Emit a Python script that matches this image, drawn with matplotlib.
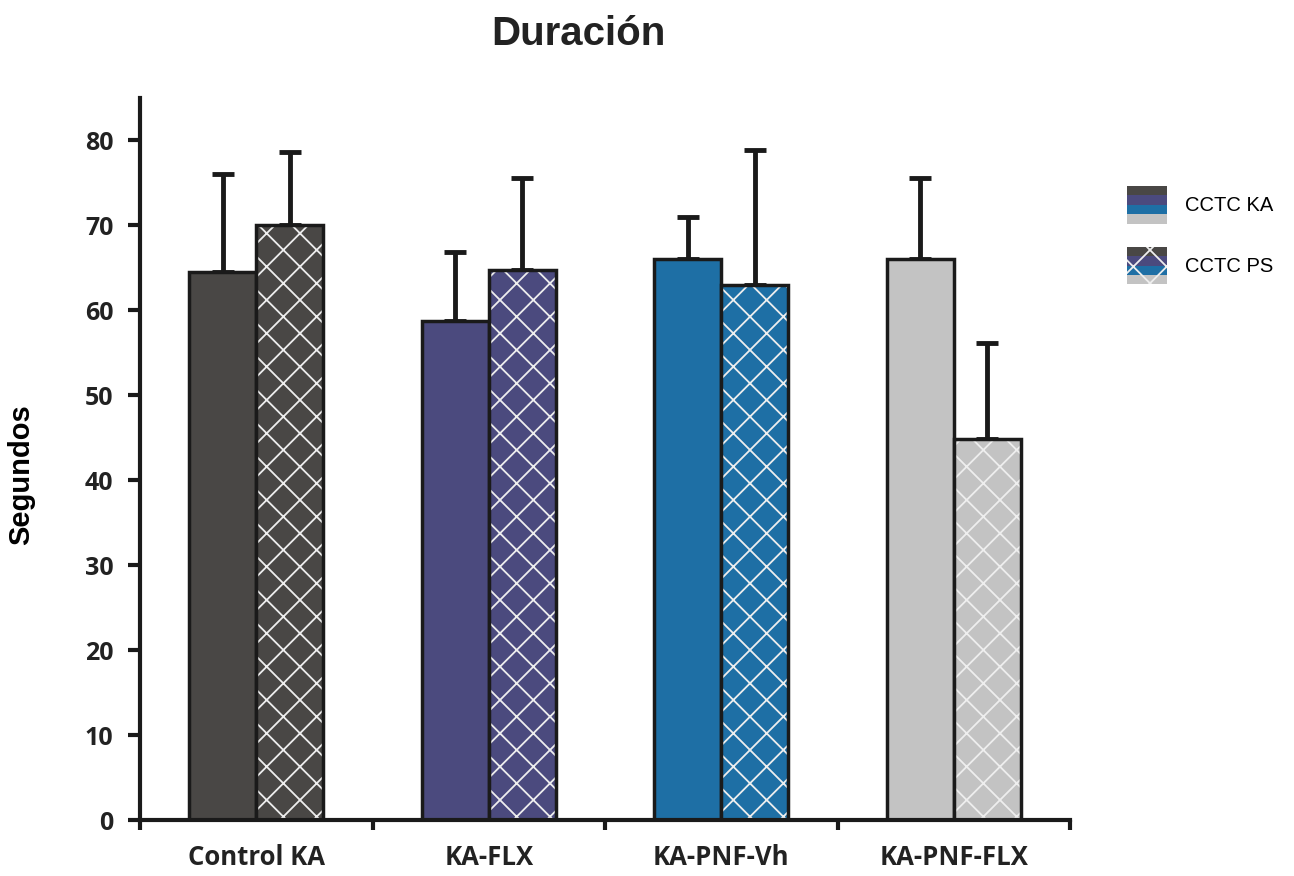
import matplotlib
matplotlib.use("Agg")
import matplotlib.pyplot as plt
from matplotlib.patches import Rectangle
from matplotlib.legend_handler import HandlerBase
import numpy as np

categories = ["Control KA", "KA-FLX", "KA-PNF-Vh", "KA-PNF-FLX"]
ka_values = [64.5, 58.7, 66.1, 66.1]
ka_errors = [11.5, 8.2, 4.9, 9.5]
ps_values = [70.1, 64.8, 63.0, 44.8]
ps_errors = [8.6, 10.8, 15.9, 11.4]
colors = ["#494745", "#4b4a7e", "#1e6fa5", "#c3c3c3"]
series_labels = ["CCTC KA", "CCTC PS"]
yticks = [0, 10, 20, 30, 40, 50, 60, 70, 80]

plt.rcParams['hatch.linewidth'] = 1.3

W, H = 1294, 876
fig = plt.figure(figsize=(W / 100, H / 100), dpi=100)
ax = fig.add_axes([140 / W, 1 - 820 / H, (1070 - 140) / W, (820 - 98) / H])

x = np.arange(len(categories))
bw = 0.288
for i in range(len(categories)):
    ax.bar(x[i] - bw / 2, ka_values[i], bw, color=colors[i], edgecolor="#1a1a1a",
           linewidth=2.5, zorder=2)
    ax.errorbar(x[i] - bw / 2, ka_values[i], yerr=[[0], [ka_errors[i]]], fmt="none",
                ecolor="#1a1a1a", elinewidth=3.5, capsize=8, capthick=3.5, zorder=1)
    ax.bar(x[i] + bw / 2, ps_values[i], bw, color=colors[i], edgecolor="#eeeeee",
           hatch="x", linewidth=0, zorder=2)
    ax.bar(x[i] + bw / 2, ps_values[i], bw, fill=False, edgecolor="#1a1a1a",
           linewidth=2.5, zorder=3)
    ax.errorbar(x[i] + bw / 2, ps_values[i], yerr=[[0], [ps_errors[i]]], fmt="none",
                ecolor="#1a1a1a", elinewidth=3.5, capsize=8, capthick=3.5, zorder=1)

ax.set_xlim(-0.5, 3.5)
ax.set_ylim(0, 85)
ax.set_yticks(yticks)
ax.set_yticklabels([str(v) for v in yticks], fontsize=18, fontweight="bold",
                   family="Open Sans", color="#222222")
ax.set_xticks([-0.5, 0.5, 1.5, 2.5, 3.5])
ax.set_xticklabels([])
ax.set_xticks(x, minor=True)
ax.set_xticklabels(categories, minor=True, fontsize=18.5, fontweight="bold",
                   family="Open Sans", color="#222222")
ax.tick_params(axis="x", which="minor", length=0, pad=17)
ax.tick_params(axis="x", which="major", length=7, width=3, direction="out", color="#1a1a1a")
ax.tick_params(axis="y", length=9, width=3, direction="out", pad=10, color="#1a1a1a")
for s in ["top", "right"]:
    ax.spines[s].set_visible(False)
for s in ["left", "bottom"]:
    ax.spines[s].set_linewidth(3)
    ax.spines[s].set_color("#1a1a1a")

ax.set_ylabel("Segundos", fontsize=21, fontweight="bold", family="Liberation Sans")
ax.yaxis.set_label_coords(-0.113, 0.478)

fig.text(578 / W, 1 - 34 / H, "Duración", fontsize=29, fontweight="bold",
         family="Liberation Sans", ha="center", va="center", color="#222222")


class StripeHandler(HandlerBase):
    def __init__(self, hatch=None):
        super().__init__()
        self.hatch = hatch

    def create_artists(self, legend, orig_handle, xdescent, ydescent, width, height,
                       fontsize, trans):
        arts = []
        n = len(colors)
        h = height / n
        for k, c in enumerate(colors):
            y0 = -ydescent + height - (k + 1) * h
            r = Rectangle((-xdescent, y0), width, h, facecolor=c,
                          edgecolor="#eeeeee" if self.hatch else "none",
                          hatch=self.hatch, linewidth=0, transform=trans)
            arts.append(r)
        return arts


h1 = Rectangle((0, 0), 1, 1)
h2 = Rectangle((0, 0), 1, 1)
fig.legend([h1, h2], series_labels, loc="upper left",
           bbox_to_anchor=(1127 / W, 1 - 186 / H), frameon=False,
           borderaxespad=0, borderpad=0,
           prop={"family": "Liberation Sans", "size": 14.5},
           handler_map={h1: StripeHandler(), h2: StripeHandler(hatch="x")},
           handlelength=2.0, handleheight=2.5, labelspacing=1.15, handletextpad=0.9)

fig.savefig("out.png", dpi=100)
